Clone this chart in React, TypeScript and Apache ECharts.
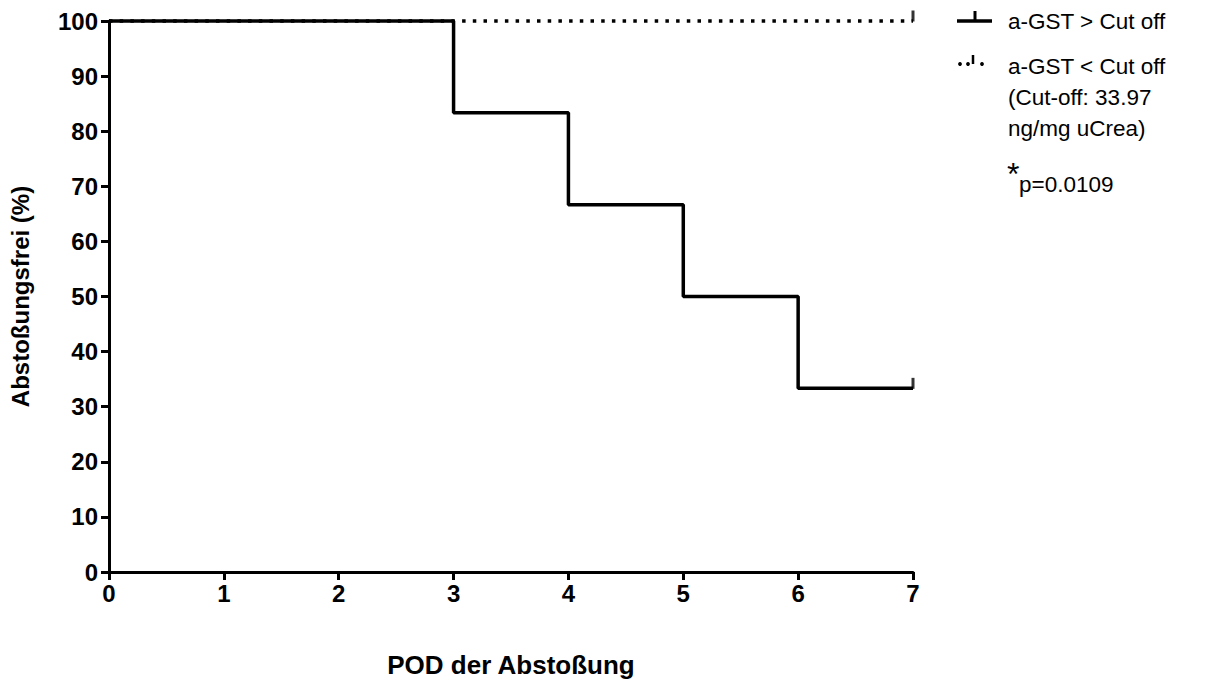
import React, { useEffect, useRef } from "react";
import * as echarts from "echarts";

const highDays = [0, 3, 4, 5, 6, 7];
const highSurvival = [100, 83.33, 66.67, 50, 33.33, 33.33];
const lowDays = [0, 7];
const lowSurvival = [100, 100];
const censoredHigh = [[7, 33.33]];
const censoredLow = [[7, 100]];
const yTicks = [0, 10, 20, 30, 40, 50, 60, 70, 80, 90, 100];
const xTicks = [0, 1, 2, 3, 4, 5, 6, 7];
const legendHigh = "a-GST > Cut off";
const legendLow = ["a-GST < Cut off", "(Cut-off: 33.97", "ng/mg uCrea)"];
const pValue = "p=0.0109";

const FONT = "Liberation Sans, Arial, Helvetica, sans-serif";
const OX = -8;
const OY = -8;
const W = 1203;
const H = 674;

export default function App() {
  const ref = useRef<HTMLDivElement>(null);
  useEffect(() => {
    if (!ref.current) return;
    const chart = echarts.init(ref.current, null, { renderer: "svg" });
    const legendText = (x: number, y: number, text: string, size = 22.5) => ({
      type: "text",
      x: x + OX,
      y: y + OY,
      style: { text, fill: "#000", font: `${size}px ${FONT}`, textVerticalAlign: "middle" },
    });
    const ln = (x1: number, y1: number, x2: number, y2: number, w: number) => ({
      type: "line",
      shape: { x1: x1 + OX, y1: y1 + OY, x2: x2 + OX, y2: y2 + OY },
      style: { stroke: "#000", lineWidth: w },
    });
    const dot = (cx: number, cy: number) => ({
      type: "circle",
      shape: { cx: cx + OX, cy: cy + OY, r: 1.9 },
      style: { fill: "#000" },
    });
    chart.setOption({
      animation: false,
      backgroundColor: "#fff",
      grid: {
        left: 109 + OX,
        right: W - (913 + OX),
        top: 21 + OY,
        bottom: H - (572 + OY),
        containLabel: false,
        outerBoundsMode: "none",
      },
      xAxis: {
        type: "value",
        min: xTicks[0],
        max: xTicks[xTicks.length - 1],
        interval: 1,
        name: "POD der Abstoßung",
        nameLocation: "middle",
        nameGap: 80,
        nameTextStyle: { fontFamily: FONT, fontWeight: "bold", fontSize: 26, color: "#000" },
        axisLine: { lineStyle: { color: "#000", width: 3 } },
        axisTick: { length: 8, lineStyle: { color: "#000", width: 3 } },
        axisLabel: { fontFamily: FONT, fontWeight: "bold", fontSize: 24, color: "#000", margin: 9 },
        splitLine: { show: false },
      },
      yAxis: {
        type: "value",
        min: yTicks[0],
        max: yTicks[yTicks.length - 1],
        interval: 10,
        name: "Abstoßungsfrei (%)",
        nameLocation: "middle",
        nameGap: 77,
        nameTextStyle: { fontFamily: FONT, fontWeight: "bold", fontSize: 24, color: "#000" },
        axisLine: { show: true, lineStyle: { color: "#000", width: 3 } },
        axisTick: { show: true, length: 8, lineStyle: { color: "#000", width: 3 } },
        axisLabel: { fontFamily: FONT, fontWeight: "bold", fontSize: 24, color: "#000", margin: 11 },
        splitLine: { show: false },
      },
      series: [
        {
          type: "line",
          step: "end",
          data: highDays.map((d, i) => [d, highSurvival[i]]),
          showSymbol: false,
          clip: false,
          lineStyle: { color: "#000", width: 3.5 },
          z: 3,
        },
        {
          type: "line",
          data: lowDays.map((d, i) => [d, lowSurvival[i]]),
          showSymbol: false,
          clip: false,
          lineStyle: { color: "#000", width: 3.5, type: [3.5, 7.2] },
          z: 2,
        },
        {
          type: "scatter",
          data: censoredHigh,
          symbol: "rect",
          symbolSize: [3, 11],
          symbolOffset: [0, -5],
          itemStyle: { color: "#000" },
          clip: false,
        },
        {
          type: "scatter",
          data: censoredLow,
          symbol: "rect",
          symbolSize: [3, 11],
          symbolOffset: [0, -5],
          itemStyle: { color: "#000" },
          clip: false,
        },
      ],
      graphic: [
        ln(957, 21, 992, 21, 3.5),
        ln(975, 11, 975, 21, 3),
        legendText(1008, 21, legendHigh),
        dot(960, 64),
        dot(968, 64),
        ln(973, 55, 973, 64, 2.5),
        dot(982, 64),
        legendText(1008, 66, legendLow[0]),
        legendText(1008, 97, legendLow[1]),
        legendText(1008, 128, legendLow[2]),
        legendText(1007, 174, "*", 32),
        legendText(1019, 184, pValue),
      ],
    });
    return () => chart.dispose();
  }, []);
  return <div ref={ref} style={{ width: W, height: H }} />;
}
